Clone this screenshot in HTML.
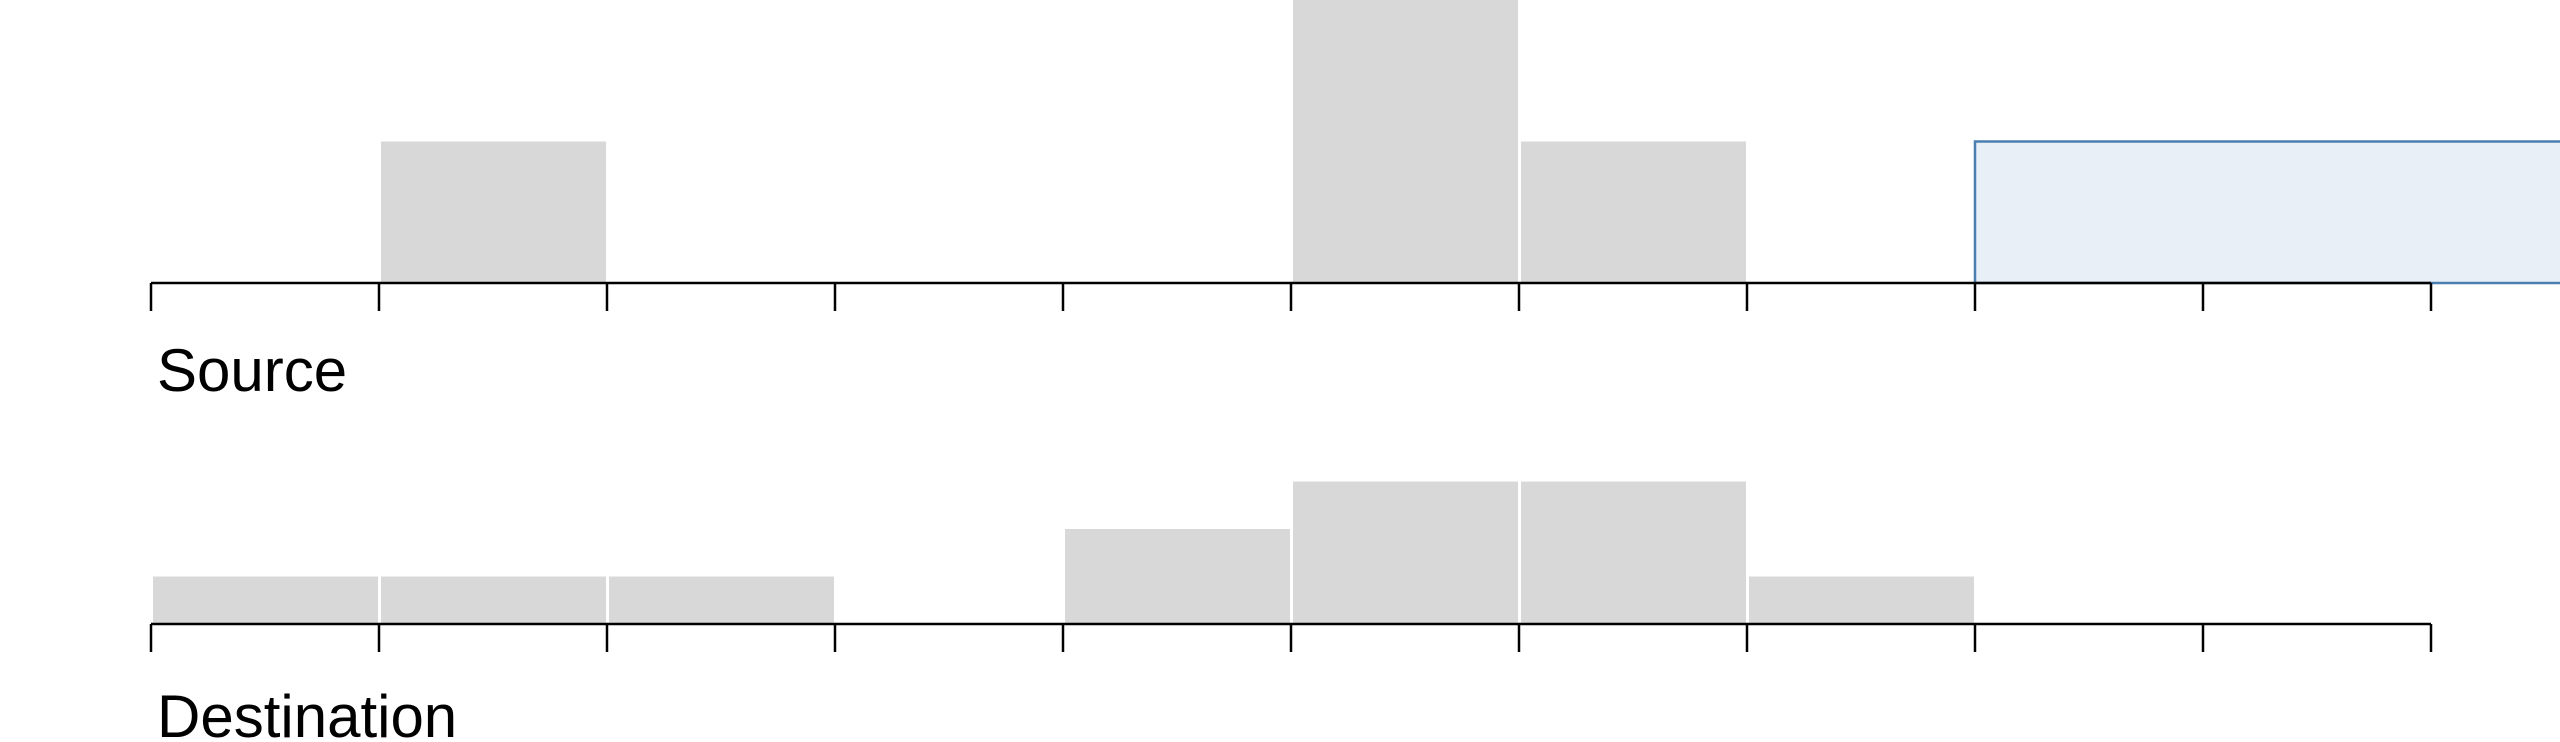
<!DOCTYPE html>
<html><head><meta charset="utf-8"><style>
html,body{margin:0;padding:0;background:#fff;width:2560px;height:742px;overflow:hidden}
svg{display:block}
text{font-family:"Liberation Sans",sans-serif;fill:#000}
</style></head><body>
<svg id="chart" width="2560" height="742"></svg>
<script>
const bins=[0,1,2,3,4,5,6,7,8,9,10];
const sourceCounts=[0,1,0,0,0,2,1,0,0,0];
const destCounts=[1,1,1,0,2,3,3,1,0,0];
const brushRange=[8,10.5];
const NS='http://www.w3.org/2000/svg';
const svg=document.getElementById('chart');
const x0=151,step=228;
function xs(v){return x0+v*step;}
function mk(tag,attrs){const e=document.createElementNS(NS,tag);for(const k in attrs)e.setAttribute(k,attrs[k]);svg.appendChild(e);return e;}
function panel(name,counts,axisY,unit,label,labelY,brush){
  counts.forEach((c,i)=>{
    if(c<=0)return;
    const r=mk('rect',{x:xs(i)+2,y:axisY-c*unit,width:step-3,height:c*unit-1,fill:'#d8d8d8'});
    
    
  });
  if(brush){
    const b=mk('rect',{x:xs(brush[0]),y:axisY-unit,width:2560-xs(brush[0])+5,height:unit,fill:'#e8eff7',stroke:'#4a7fb0','stroke-width':2.5});
    
    
  }
  const a=mk('line',{x1:xs(0),x2:xs(10),y1:axisY,y2:axisY,stroke:'#000','stroke-width':2.5});
  
  
  bins.forEach(b=>{
    const t=mk('line',{x1:xs(b),x2:xs(b),y1:axisY,y2:axisY+28,stroke:'#000','stroke-width':2.5});
    
    
  });
  const tx=mk('text',{x:157,y:labelY,'font-size':60});
  tx.textContent=label;
  
  
}
panel('source',sourceCounts,283,141.5,'Source',391,brushRange);
panel('destination',destCounts,624,47.5,'Destination',737,null);
</script>
</body></html>
